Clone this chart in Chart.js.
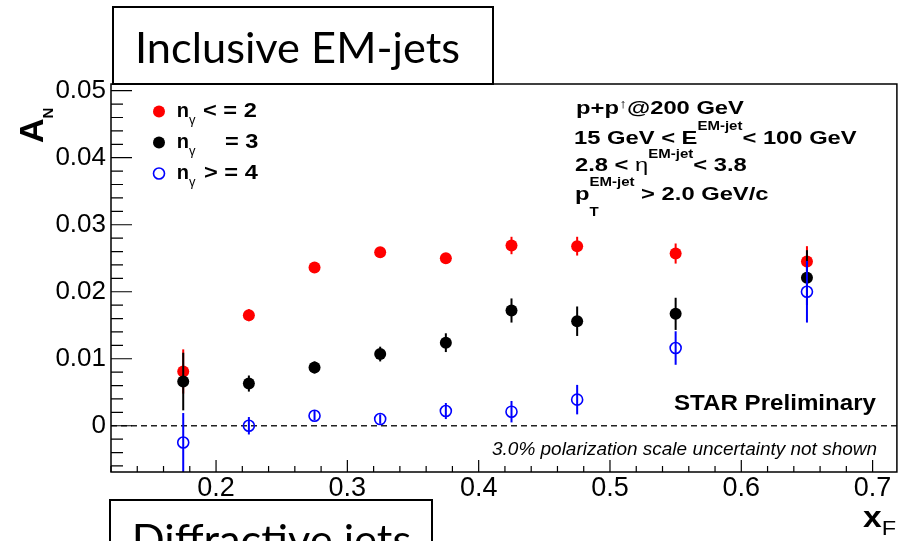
<!DOCTYPE html>
<html>
<head>
<meta charset="utf-8">
<script src="https://cdn.jsdelivr.net/npm/chart.js@4.4.1/dist/chart.umd.min.js"></script>
<style>
  html, body { margin: 0; padding: 0; background: #fff; }
  canvas { display: block; }
</style>
</head>
<body>
<canvas id="anChart" width="904" height="541"></canvas>
<script>
// x_F bin centres
const xF = [0.175, 0.225, 0.275, 0.325, 0.375, 0.425, 0.475, 0.55, 0.65];

// A_N for n_gamma <= 2 (red, filled)
const anLe2  = [0.0081, 0.0165, 0.0236, 0.0259, 0.0250, 0.0269, 0.0268, 0.0257, 0.0245];
const errLe2 = [0.0033, 0.0009, 0.0006, 0.0006, 0.0006, 0.0013, 0.0014, 0.0015, 0.0023];

// A_N for n_gamma = 3 (black, filled)
const anEq3  = [0.0066, 0.0063, 0.0087, 0.0107, 0.0124, 0.0172, 0.0156, 0.0167, 0.0221];
const errEq3 = [0.0043, 0.0012, 0.0009, 0.0011, 0.0014, 0.0018, 0.0022, 0.0024, 0.0041];

// A_N for n_gamma >= 4 (blue, open)
const anGe4  = [-0.0025, 0.0000, 0.0015, 0.0010, 0.0022, 0.0021, 0.0039, 0.0116, 0.0200];
const errGe4 = [0.0044, 0.0013, 0.0007, 0.0007, 0.0012, 0.0016, 0.0022, 0.0025, 0.0046];

const xMajor = [0.2, 0.3, 0.4, 0.5, 0.6, 0.7];
const yMajor = [0, 0.01, 0.02, 0.03, 0.04, 0.05];

const SANS = "'Liberation Sans', Arial, sans-serif";

const pts = (ys) => xF.map((x, i) => ({ x: x, y: ys[i] }));

// draw a run of text pieces (sub/superscripts) with optional horizontal stretch
function rich(ctx, x, y, parts, sx) {
    ctx.save();
    ctx.translate(x, y);
    ctx.scale(sx || 1, 1);
    let cx = 0;
    parts.forEach(p => {
        ctx.font = p.f;
        ctx.fillText(p.t, cx, p.dy || 0);
        if (!p.keep) cx += ctx.measureText(p.t).width;
    });
    ctx.restore();
}

function fitText(ctx, text, x, y, font, w) {
    ctx.save();
    ctx.font = font;
    const sx = w / ctx.measureText(text).width;
    ctx.translate(x, y);
    ctx.scale(sx, 1);
    ctx.fillText(text, 0, 0);
    ctx.restore();
    return sx;
}

const errs = [errLe2, errEq3, errGe4];
const errColors = ['#ff0000', '#000000', '#0000ff'];

const rootStyle = {
    id: 'rootStyle',
    beforeDatasetsDraw(chart) {
        const { ctx, chartArea: a, scales: { y } } = chart;
        const y0 = y.getPixelForValue(0);
        ctx.save();
        ctx.strokeStyle = '#222';
        ctx.lineWidth = 1.5;
        ctx.setLineDash([6, 4]);
        ctx.beginPath();
        ctx.moveTo(a.left, y0);
        ctx.lineTo(a.right, y0);
        ctx.stroke();
        ctx.restore();
    },
    beforeDatasetDraw(chart, args) {
        const { ctx, chartArea: a, scales: { x, y } } = chart;
        const ds = chart.data.datasets[args.index];
        const e = errs[args.index];
        ctx.save();
        ctx.beginPath();
        ctx.rect(a.left, a.top, a.right - a.left, a.bottom - a.top);
        ctx.clip();
        ctx.strokeStyle = errColors[args.index];
        ctx.lineWidth = 2;
        ds.data.forEach((p, i) => {
            const px = x.getPixelForValue(p.x);
            ctx.beginPath();
            ctx.moveTo(px, y.getPixelForValue(p.y - e[i]));
            ctx.lineTo(px, y.getPixelForValue(p.y + e[i]));
            ctx.stroke();
        });
        ctx.restore();
    },
    afterDraw(chart) {
        const { ctx, chartArea: a, scales: { x, y } } = chart;
        ctx.save();

        // frame
        ctx.strokeStyle = '#000';
        ctx.lineWidth = 1.5;
        ctx.strokeRect(a.left, a.top, a.right - a.left, a.bottom - a.top);

        // inward ticks
        ctx.lineWidth = 1.2;
        ctx.beginPath();
        for (let v = 0.12; v <= x.max + 1e-9; v += 0.02) {
            const px = x.getPixelForValue(v);
            const major = xMajor.some(m => Math.abs(m - v) < 1e-6);
            ctx.moveTo(px, a.bottom);
            ctx.lineTo(px, a.bottom - (major ? 12 : 6));
        }
        for (let v = -0.006; v <= y.max + 1e-9; v += 0.002) {
            const py = y.getPixelForValue(v);
            const major = yMajor.some(m => Math.abs(m - v) < 1e-6);
            ctx.moveTo(a.left, py);
            ctx.lineTo(a.left + (major ? 21 : 12), py);
        }
        ctx.stroke();

        ctx.fillStyle = '#000';
        ctx.textBaseline = 'alphabetic';

        // legend
        const legend = [
            { c: '#ff0000', fill: true, yb: 117.3, rest: '< = 2', rx: 203 },
            { c: '#000000', fill: true, yb: 148.3, rest: '= 3', rx: 225 },
            { c: '#0000ff', fill: false, yb: 179.3, rest: '> = 4', rx: 204 }
        ];
        legend.forEach(l => {
            ctx.beginPath();
            ctx.arc(159, l.yb - 5.8, l.fill ? 6 : 5.5, 0, Math.PI * 2);
            if (l.fill) { ctx.fillStyle = l.c; ctx.fill(); }
            else { ctx.strokeStyle = l.c; ctx.lineWidth = 1.6; ctx.stroke(); }
            ctx.fillStyle = '#000';
            rich(ctx, 176.7, l.yb, [
                { t: 'n', f: 'bold 20px ' + SANS },
                { t: 'γ', f: '13px ' + SANS, dy: 6.5 }
            ]);
            rich(ctx, l.rx, l.yb, [{ t: l.rest, f: 'bold 20px ' + SANS }], 1.18);
        });

        // kinematic cuts
        const B = 'bold 19px ' + SANS, S = 'bold 12px ' + SANS;
        rich(ctx, 576, 113.5, [
            { t: 'p+p', f: B },
            { t: '↑', f: '13px ' + SANS, dy: -6 },
            { t: '@200 GeV', f: B }
        ], 1.25);
        rich(ctx, 574, 143.5, [
            { t: '15 GeV < E', f: B },
            { t: 'EM-jet', f: S, dy: -13.5 },
            { t: '< 100 GeV', f: B }
        ], 1.25);
        rich(ctx, 575, 170.5, [
            { t: '2.8 < ', f: B },
            { t: 'η', f: '19px ' + SANS },
            { t: 'EM-jet', f: S, dy: -12.5 },
            { t: '< 3.8', f: B }
        ], 1.25);
        rich(ctx, 575, 200, [
            { t: 'p', f: B },
            { t: 'T', f: S, dy: 16, keep: true },
            { t: 'EM-jet', f: S, dy: -14 },
            { t: ' > 2.0 GeV/c', f: B }
        ], 1.25);

        fitText(ctx, 'STAR Preliminary', 674, 410, 'bold 22px ' + SANS, 202);
        fitText(ctx, '3.0% polarization scale uncertainty not shown', 492, 455, 'italic 18px ' + SANS, 385);

        // axis titles
        ctx.save();
        ctx.translate(43, 143);
        ctx.rotate(-Math.PI / 2);
        rich(ctx, 0, 0, [
            { t: 'A', f: 'bold 34px ' + SANS },
            { t: 'N', f: 'bold 15px ' + SANS, dy: 10 }
        ]);
        ctx.restore();
        rich(ctx, 863, 526.7, [
            { t: 'x', f: 'bold 30px ' + SANS },
            { t: 'F', f: '21px ' + SANS, dy: 8.5 }
        ], 1.12);

        // slide title boxes
        ctx.strokeStyle = '#000';
        ctx.lineWidth = 2;
        ctx.fillStyle = '#fff';
        ctx.fillRect(113, 7, 380, 77);
        ctx.strokeRect(113, 7, 380, 77);
        ctx.fillStyle = '#000';
        const sx = fitText(ctx, 'Inclusive EM-jets', 135, 63, '42px Lato, sans-serif', 325);

        ctx.fillStyle = '#fff';
        ctx.fillRect(110, 500, 322, 50);
        ctx.strokeRect(110, 500, 322, 50);
        ctx.fillStyle = '#000';
        ctx.save();
        ctx.font = '42px Lato, sans-serif';
        ctx.translate(131.7, 555);
        ctx.scale(sx, 1);
        ctx.fillText('Diffractive jets', 0, 0);
        ctx.restore();

        ctx.restore();
    }
};

new Chart(document.getElementById('anChart'), {
    type: 'scatter',
    data: {
        datasets: [
            {
                label: 'n_gamma <= 2', data: pts(anLe2), order: 3,
                pointStyle: 'circle', pointRadius: 6, pointHoverRadius: 6,
                backgroundColor: '#ff0000', borderColor: '#ff0000', borderWidth: 0
            },
            {
                label: 'n_gamma = 3', data: pts(anEq3), order: 2,
                pointStyle: 'circle', pointRadius: 6, pointHoverRadius: 6,
                backgroundColor: '#000000', borderColor: '#000000', borderWidth: 0
            },
            {
                label: 'n_gamma >= 4', data: pts(anGe4), order: 1,
                pointStyle: 'circle', pointRadius: 5.5, pointHoverRadius: 5.5,
                backgroundColor: 'rgba(0,0,0,0)', borderColor: '#0000ff', borderWidth: 1.6
            }
        ]
    },
    options: {
        responsive: false,
        animation: false,
        layout: { padding: { left: 0, right: 7, top: 84, bottom: 0 } },
        plugins: { legend: { display: false }, tooltip: { enabled: false } },
        scales: {
            x: {
                type: 'linear', min: 0.12, max: 0.7185,
                afterFit: s => { s.height = 69; },
                grid: { display: false, drawTicks: false },
                border: { display: false },
                ticks: {
                    stepSize: 0.1, includeBounds: false, autoSkip: false, maxRotation: 0,
                    padding: 0, color: '#000', font: { family: SANS, size: 27 },
                    callback: v => v.toFixed(1)
                }
            },
            y: {
                type: 'linear', min: -0.0069, max: 0.051,
                afterFit: s => { s.width = 111; },
                grid: { display: false, drawTicks: false },
                border: { display: false },
                ticks: {
                    stepSize: 0.01, includeBounds: false, autoSkip: false,
                    padding: 5, color: '#000', font: { family: SANS, size: 26 },
                    callback: v => Math.abs(v) < 1e-9 ? '0' : v.toFixed(2)
                }
            }
        }
    },
    plugins: [rootStyle]
});
</script>
</body>
</html>
